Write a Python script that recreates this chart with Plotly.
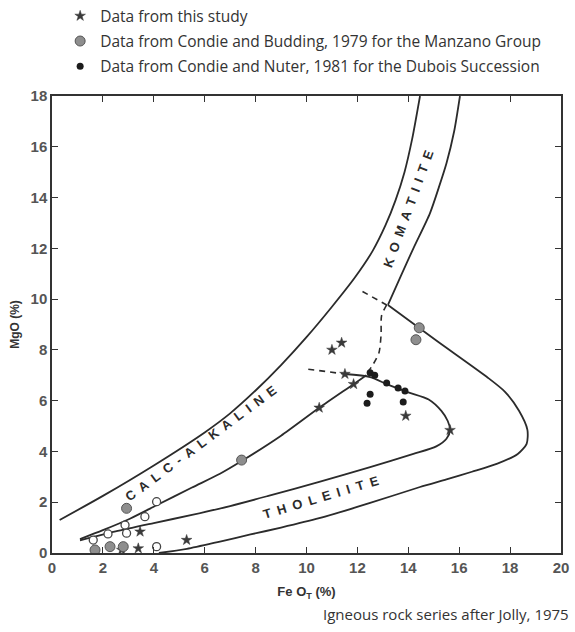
import plotly.graph_objects as go

# ---------------- data ----------------
# Field boundaries
ca_outer_x = [0.3, 2.0, 4.0, 6.0, 7.0, 8.0, 9.0, 10.0, 11.0, 11.9, 12.6, 13.1, 13.5, 13.85, 14.15, 14.46]
ca_outer_y = [1.3, 2.25, 3.45, 4.75, 5.5, 6.4, 7.4, 8.5, 9.7, 10.85, 11.9, 12.9, 13.9, 15.0, 16.3, 18.0]

kom_right_x = [16.03, 15.8, 15.5, 15.2, 14.85, 14.2, 13.7, 13.2]
kom_right_y = [18.0, 16.6, 15.35, 14.4, 13.38, 12.0, 10.9, 9.77]

th_outer_x = [13.2, 15.1, 17.08, 17.8, 18.35, 18.68, 18.65, 18.3, 17.5, 16.5, 15.5, 14.46, 12.5, 10.5, 9.0, 7.8, 6.6, 5.3, 4.2]
th_outer_y = [9.77, 8.37, 6.94, 6.35, 5.6, 4.85, 4.3, 3.9, 3.52, 3.2, 2.9, 2.6, 1.97, 1.37, 1.0, 0.73, 0.45, 0.16, 0.0]

# Trend lines
th_trend_x = [1.1, 2.5, 4.0, 5.5, 7.0, 8.5, 10.5, 12.5, 14.2, 15.1, 15.5, 15.64, 15.55, 15.3, 14.8, 14.0, 13.2, 12.5, 11.5]
th_trend_y = [0.5, 0.85, 1.18, 1.5, 1.85, 2.25, 2.8, 3.38, 3.9, 4.2, 4.5, 4.84, 5.2, 5.6, 6.05, 6.33, 6.63, 6.93, 7.05]

ca_trend_x = [1.1, 2.0, 3.06, 4.11, 5.5, 6.6, 7.45, 9.0, 10.5, 11.85, 12.35]
ca_trend_y = [0.55, 0.9, 1.35, 1.88, 2.58, 3.12, 3.62, 4.62, 5.72, 6.65, 7.0]

dash_a_x = [12.2, 13.15]
dash_a_y = [10.3, 9.77]
dash_b_x = [13.15, 12.95, 12.93, 12.85, 12.6, 12.35]
dash_b_y = [9.77, 9.35, 8.6, 7.9, 7.4, 7.05]
dash_c_x = [10.07, 11.5]
dash_c_y = [7.24, 7.05]

# Data points
study_x = [2.74, 3.39, 3.46, 5.29, 10.5, 11.85, 11.51, 11.0, 11.38, 13.9, 15.64]
study_y = [0.12, 0.18, 0.84, 0.51, 5.72, 6.65, 7.05, 8.0, 8.28, 5.4, 4.84]

manzano_x = [1.69, 2.28, 2.8, 2.93, 7.45, 14.43, 14.3]
manzano_y = [0.12, 0.25, 0.25, 1.76, 3.66, 8.87, 8.4]

open_x = [1.62, 2.2, 2.87, 2.93, 3.65, 4.11, 4.11]
open_y = [0.51, 0.75, 1.1, 0.78, 1.43, 2.02, 0.25]

dubois_x = [12.5, 12.68, 13.15, 13.6, 13.87, 12.5, 12.38, 13.8]
dubois_y = [7.1, 7.0, 6.7, 6.5, 6.38, 6.25, 5.9, 5.95]

legend_names = [
    "Data from this study",
    "Data from Condie and Budding, 1979 for the Manzano Group",
    "Data from Condie and Nuter, 1981 for the Dubois Succession",
]

# ---------------- figure ----------------
LINE = "#2b2b2b"
fig = go.Figure()

for xs, ys in [(ca_outer_x, ca_outer_y), (kom_right_x, kom_right_y), (th_outer_x, th_outer_y),
               (th_trend_x, th_trend_y), (ca_trend_x, ca_trend_y)]:
    fig.add_trace(go.Scatter(x=xs, y=ys, mode="lines", line=dict(color=LINE, width=1.8, shape="spline", smoothing=0.7),
                             showlegend=False, hoverinfo="skip"))

for xs, ys in [(dash_a_x, dash_a_y), (dash_b_x, dash_b_y), (dash_c_x, dash_c_y)]:
    fig.add_trace(go.Scatter(x=xs, y=ys, mode="lines",
                             line=dict(color=LINE, width=1.6, dash="6px,5px", shape="spline", smoothing=0.7),
                             showlegend=False, hoverinfo="skip"))

fig.add_trace(go.Scatter(x=open_x, y=open_y, mode="markers",
                         marker=dict(symbol="circle", size=8, color="white", line=dict(color="#444", width=1.3)),
                         showlegend=False))

fig.add_trace(go.Scatter(x=study_x, y=study_y, mode="markers", name=legend_names[0], legendgroup="a",
                         marker=dict(symbol="star", size=8, color="#3a3a3a", line=dict(color="#3a3a3a", width=0.5))))
fig.add_trace(go.Scatter(x=manzano_x, y=manzano_y, mode="markers", name=legend_names[1], legendgroup="b",
                         marker=dict(symbol="circle", size=10, color="#8e8e8e", line=dict(color="#555", width=1))))
fig.add_trace(go.Scatter(x=dubois_x, y=dubois_y, mode="markers", name=legend_names[2], legendgroup="c",
                         marker=dict(symbol="circle", size=7, color="#1c1c1c")))

ann_font = dict(family="Liberation Sans", size=13, color="#2b2b2b", weight="bold")
sp = "\u2002"
fig.add_annotation(x=5.85, y=4.3, xref="x", yref="y", text=sp.join("CALC-ALKALINE"), textangle=-36.5,
                   showarrow=False, font=ann_font)
fig.add_annotation(x=14.0, y=13.58, xref="x", yref="y", text=sp.join("KOMATIITE"), textangle=-70,
                   showarrow=False, font=ann_font)
fig.add_annotation(x=10.56, y=2.17, xref="x", yref="y", text=sp.join("THOLEIITE"), textangle=-16.8,
                   showarrow=False, font=ann_font)

fig.add_annotation(x=1.019, y=-0.1335, xref="paper", yref="paper", xanchor="right", yanchor="middle",
                   text="Igneous rock series after Jolly, 1975", showarrow=False,
                   font=dict(family="Open Sans", size=15, color="#333"))

axis_common = dict(showgrid=False, zeroline=False, showline=True, linecolor="#333", linewidth=1.5,
                   mirror="ticks", ticks="inside", ticklen=6, tickwidth=1.3, tickcolor="#333",
                   tickfont=dict(family="Liberation Sans", size=15, color="#555", weight="bold"))

fig.update_xaxes(range=[0, 20], dtick=2, tick0=0,
                 title=dict(text="Fe O<sub>T</sub> (%)",
                            font=dict(family="Liberation Sans", size=13, color="#333", weight="bold"), standoff=12),
                 **axis_common)
fig.update_yaxes(range=[0, 18], dtick=2, tick0=0,
                 title=dict(text="MgO (%)",
                            font=dict(family="Liberation Sans", size=12, color="#333", weight="bold"), standoff=8),
                 **axis_common)

fig.update_layout(
    width=575, height=632,
    margin=dict(l=52, r=14, t=96, b=79, autoexpand=False),
    plot_bgcolor="white", paper_bgcolor="white",
    legend=dict(x=0.016, y=1.2116, xanchor="left", yanchor="top", traceorder="grouped", tracegroupgap=2,
                font=dict(family="Open Sans", size=15.5, color="#333"), bgcolor="rgba(0,0,0,0)"),
)

fig.write_html("out.html")
